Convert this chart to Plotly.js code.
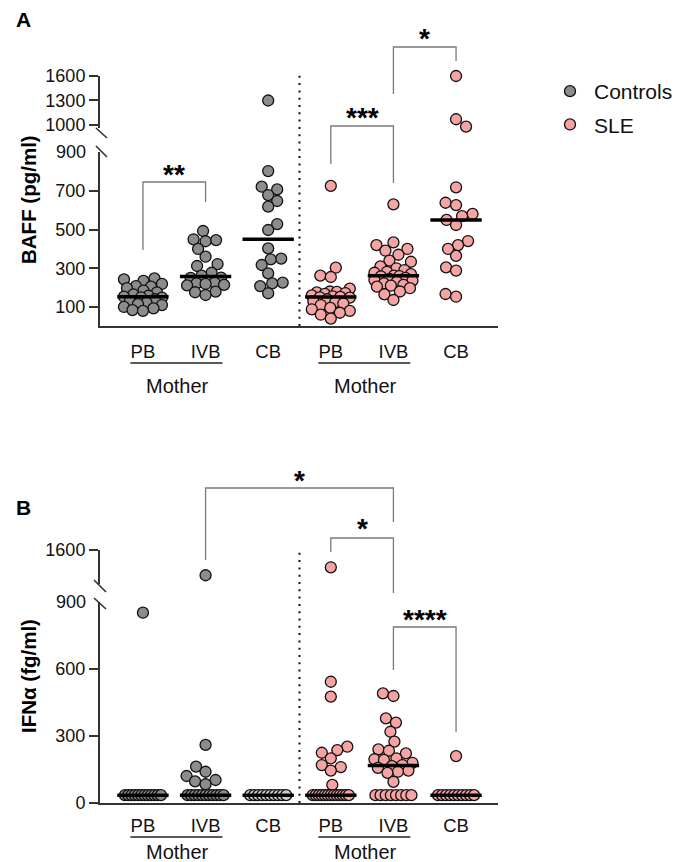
<!DOCTYPE html>
<html><head><meta charset="utf-8">
<script src="https://cdn.plot.ly/plotly-3.0.1.min.js"></script>
<style>html,body{margin:0;padding:0;background:#fff}#chart{width:692px;height:862px}</style>
</head><body><div id="chart"></div>
<script>
// ---------- DATA ----------
const categories = ['PB', 'IVB', 'CB', 'PB', 'IVB', 'CB'];
const subgroupLabel = 'Mother';
const seriesNames = ['Controls', 'SLE'];
const panelTitles = ['BAFF (pg/ml)', 'IFNα (fg/ml)'];

// Panel A: BAFF (pg/ml)
const baffControlsPB  = [248, 243, 235, 219, 208, 205, 197, 185, 175, 165, 158, 153, 150, 148, 140, 130, 122, 115, 110, 100, 93, 84, 80];
const baffControlsIVB = [493, 450, 446, 440, 400, 360, 322, 312, 277, 262, 252, 250, 226, 222, 219, 214, 212, 179, 176, 162];
const baffControlsCB  = [1300, 803, 722, 708, 679, 648, 619, 529, 498, 403, 350, 346, 317, 274, 226, 222, 208, 171];
const baffSlePB  = [726, 303, 262, 255, 195, 180, 178, 175, 172, 168, 160, 155, 152, 150, 148, 140, 130, 125, 118, 110, 95, 88, 80, 70, 60, 40];
const baffSleIVB = [631, 434, 420, 400, 391, 370, 340, 334, 310, 300, 291, 282, 277, 270, 262, 260, 258, 250, 245, 239, 236, 231, 222, 214, 210, 205, 197, 180, 165, 136];
const baffSleCB  = [1600, 1070, 980, 939, 719, 639, 627, 581, 570, 550, 524, 441, 420, 400, 364, 305, 288, 167, 153];

// Panel B: IFNα (fg/ml)
const ifnControlsPB  = [852, 35, 35, 35, 35, 35, 35, 35, 35, 35, 35, 35, 35];
const ifnControlsIVB = [1390, 260, 163, 140, 121, 103, 97, 84, 35, 35, 35, 35, 35, 35, 35, 35, 35, 35, 35];
const ifnControlsCB  = [35, 35, 35, 35, 35, 35, 35, 35, 35, 35];
const ifnSlePB  = [1456, 543, 476, 252, 237, 225, 200, 170, 161, 145, 81, 35, 35, 35, 35, 35, 35, 35, 35, 35, 35, 35, 35, 35];
const ifnSleIVB = [491, 479, 379, 360, 319, 275, 240, 234, 222, 200, 196, 193, 180, 170, 165, 157, 145, 140, 135, 95, 35, 35, 35, 35, 35, 35, 35, 35];
const ifnSleCB  = [210, 35, 35, 35, 35, 35, 35, 35, 35, 35, 35];

// Significance comparisons: [fromCategory, toCategory, label]
const sigA = [[0, 1, '**'], [3, 4, '***'], [4, 5, '*']];
const sigB = [[1, 4, '*'], [3, 4, '*'], [4, 5, '****']];

// ---------- LAYOUT GEOMETRY ----------
const W = 692, H = 862;
const py = p => 1 - p / H;
const xDomain = [100 / W, 498 / W];
const xRange = [-0.686, 5.67];
const axA_lo = {domain: [py(326.3), py(152.3)], range: [0, 900]};
const axA_hi = {domain: [py(128), py(76)], range: [963, 1600]};
const axB_lo = {domain: [py(803), py(602)], range: [0, 900]};
const axB_hi = {domain: [py(584), py(550)], range: [1317, 1600]};
const BREAK = 900;
const pxPerX = W * (xDomain[1] - xDomain[0]) / (xRange[1] - xRange[0]);

const GRAY = '#8c8c8c', GRAY_LIGHT = '#cdcdcd', PINK = '#f5a3a3';
const FONT = 'Liberation Sans, Arial, Helvetica, sans-serif';

// ---------- swarm layout (offsets derived from values) ----------
function swarm(vals, toPx, D, maxW) {
  const idx = vals.map((v, i) => i).sort((a, b) => vals[a] - vals[b]);
  const counts = {};
  vals.forEach(v => counts[v] = (counts[v] || 0) + 1);
  const seen = {};
  const placed = [];
  const off = new Array(vals.length).fill(0);
  let flip = 1;
  for (const i of idx) {
    const v = vals[i], y = toPx(v);
    let x;
    if (counts[v] >= 4) {
      const k = counts[v];
      const j = seen[v] = (seen[v] === undefined ? 0 : seen[v] + 1);
      const half = Math.min((k - 1) * D / 2, maxW - 1);
      x = -half + j * (2 * half / (k - 1));
    } else {
      let best = 0, bestScore = -1;
      outer:
      for (let s = 0; s <= maxW; s += 0.5) {
        for (const sg of [flip, -flip]) {
          const c = s * sg;
          let minD = Infinity;
          for (const p of placed) minD = Math.min(minD, Math.hypot(p.x - c, p.y - y));
          if (minD >= D) { x = c; break outer; }
          if (minD > bestScore) { bestScore = minD; best = c; }
          if (s === 0) break;
        }
      }
      if (x === undefined) x = best;
      flip = -flip;
    }
    placed.push({x, y});
    off[i] = x;
  }
  return off;
}

const traces = [];
const medianTraces = [];
function addGroup(vals, cat, color, panel, name, showLeg) {
  const lo = panel === 'A' ? axA_lo : axB_lo, hi = panel === 'A' ? axA_hi : axB_hi;
  const toPx = v => {
    const a = v > BREAK ? hi : lo;
    const f = (v - a.range[0]) / (a.range[1] - a.range[0]);
    return H * (1 - (a.domain[0] + f * (a.domain[1] - a.domain[0])));
  };
  const offs = swarm(vals, toPx, 10.5, 19);
  const loX = [], loY = [], hiX = [], hiY = [];
  vals.forEach((v, i) => {
    const x = cat + offs[i] / pxPerX;
    if (v > BREAK) { hiX.push(x); hiY.push(v); } else { loX.push(x); loY.push(v); }
  });
  const xa = panel === 'A' ? 'x' : 'x2';
  const yl = panel === 'A' ? 'y' : 'y3';
  const yh = panel === 'A' ? 'y2' : 'y4';
  const marker = {size: 11, color: color, line: {color: '#111', width: 1.3}};
  traces.push({type: 'scatter', mode: 'markers', x: loX, y: loY, xaxis: xa, yaxis: yl, marker,
    cliponaxis: false, name, legendgroup: name, showlegend: showLeg});
  if (hiY.length) traces.push({type: 'scatter', mode: 'markers', x: hiX, y: hiY, xaxis: xa, yaxis: yh, marker,
    cliponaxis: false, name, legendgroup: name, showlegend: false});
  const s = [...vals].sort((a, b) => a - b), n = s.length;
  const med = n % 2 ? s[(n - 1) / 2] : (s[n / 2 - 1] + s[n / 2]) / 2;
  medianTraces.push({type: 'scatter', mode: 'lines', x: [cat - 0.41, cat + 0.41], y: [med, med],
    xaxis: xa, yaxis: med > BREAK ? yh : yl, line: {color: '#000', width: 3.5},
    showlegend: false, hoverinfo: 'skip', cliponaxis: false});
}

addGroup(baffControlsPB, 0, GRAY, 'A', seriesNames[0], true);
addGroup(baffControlsIVB, 1, GRAY, 'A', seriesNames[0], false);
addGroup(baffControlsCB, 2, GRAY, 'A', seriesNames[0], false);
addGroup(baffSlePB, 3, PINK, 'A', seriesNames[1], true);
addGroup(baffSleIVB, 4, PINK, 'A', seriesNames[1], false);
addGroup(baffSleCB, 5, PINK, 'A', seriesNames[1], false);
addGroup(ifnControlsPB, 0, GRAY, 'B', seriesNames[0], false);
addGroup(ifnControlsIVB, 1, GRAY, 'B', seriesNames[0], false);
addGroup(ifnControlsCB, 2, GRAY_LIGHT, 'B', seriesNames[0], false);
addGroup(ifnSlePB, 3, PINK, 'B', seriesNames[1], false);
addGroup(ifnSleIVB, 4, PINK, 'B', seriesNames[1], false);
addGroup(ifnSleCB, 5, PINK, 'B', seriesNames[1], false);

// ---------- axes ----------
const AXC = '#333';
function yAx(a, anchor, tickvals) {
  return {domain: a.domain, range: a.range, anchor, tickvals, ticks: 'outside', ticklen: 9, tickwidth: 2,
    tickcolor: AXC, showline: true, linecolor: AXC, linewidth: 2, showgrid: false, zeroline: false,
    tickfont: {size: 18, color: '#111'}, fixedrange: true};
}
function xAx(anchor, ticklen) {
  return {domain: xDomain, range: xRange, anchor, tickvals: [0, 1, 2, 3, 4, 5], ticktext: categories,
    ticks: 'outside', ticklen, tickcolor: 'rgba(0,0,0,0)', showline: true, linecolor: AXC, linewidth: 2,
    showgrid: false, zeroline: false, tickfont: {size: 18.5, color: '#111'}, fixedrange: true};
}

const shapes = [];
const annotations = [];
const lineStyle = {color: '#7a7a7a', width: 1.3};

// separators
shapes.push({type: 'line', xref: 'x', yref: 'paper', x0: 2.5, x1: 2.5, y0: py(326), y1: py(75),
  line: {color: '#111', width: 2, dash: '2px,5.3px'}});
shapes.push({type: 'line', xref: 'x2', yref: 'paper', x0: 2.5, x1: 2.5, y0: py(803), y1: py(550),
  line: {color: '#111', width: 2, dash: '2px,5.3px'}});

// axis break slashes
[[96, 128, 107, 138], [96, 146, 107, 157], [94, 580, 106, 592], [94, 598, 106, 609]].forEach(s => {
  shapes.push({type: 'line', xref: 'paper', yref: 'paper', x0: s[0] / W, x1: s[2] / W, y0: py(s[1]), y1: py(s[3]),
    line: {color: AXC, width: 1.6}});
});

// break labels without tick marks
annotations.push({xref: 'paper', yref: 'y', x: 88 / W, y: 900, xanchor: 'right', yanchor: 'middle', text: '900', showarrow: false, font: {size: 18, color: '#111'}});
annotations.push({xref: 'paper', yref: 'y3', x: 88 / W, y: 900, xanchor: 'right', yanchor: 'middle', text: '900', showarrow: false, font: {size: 18, color: '#111'}});
annotations.push({xref: 'paper', yref: 'y4', x: 88 / W, y: 1300, xanchor: 'right', yanchor: 'middle', text: '1300', showarrow: false, font: {size: 18, color: '#111'}});

// subgroup underline + label
[['x', 363, 386], ['x2', 837, 852]].forEach(([xr, uy, ty]) => {
  [[-0.2, 1.27, 0.55], [2.8, 4.27, 3.55]].forEach(([a, b, c]) => {
    shapes.push({type: 'line', xref: xr, yref: 'paper', x0: a, x1: b, y0: py(uy), y1: py(uy), line: {color: '#222', width: 1.5}});
    annotations.push({xref: xr, yref: 'paper', x: c, y: py(ty), xanchor: 'center', yanchor: 'middle', text: subgroupLabel, showarrow: false, font: {size: 20, color: '#111'}});
  });
});

// significance brackets
function bracket(xr, c0, c1, topPx, l0Px, l1Px, label, starPx) {
  shapes.push({type: 'path', xref: xr, yref: 'paper',
    path: `M ${c0},${py(l0Px)} L ${c0},${py(topPx)} L ${c1},${py(topPx)} L ${c1},${py(l1Px)}`,
    line: lineStyle});
  annotations.push({xref: xr, yref: 'paper', x: (c0 + c1) / 2, y: py(starPx + 6), xanchor: 'center', yanchor: 'middle',
    text: '<b>' + label + '</b>', showarrow: false, font: {size: 28, color: '#000'}});
}
const bracketPxA = [[182, 250, 202, 168], [126, 164, 183, 112], [47, 94, 61, 33]];
const bracketPxB = [[488, 560, 522, 475], [538, 552, 593, 522], [627, 670, 732, 613]];
sigA.forEach((s, i) => bracket('x', s[0], s[1], ...bracketPxA[i].slice(0, 3), s[2], bracketPxA[i][3]));
sigB.forEach((s, i) => bracket('x2', s[0], s[1], ...bracketPxB[i].slice(0, 3), s[2], bracketPxB[i][3]));

// panel letters and y titles
annotations.push({xref: 'paper', yref: 'paper', x: 14 / W, y: py(19), xanchor: 'left', yanchor: 'middle', text: '<b>A</b>', showarrow: false, font: {size: 21, color: '#000'}});
annotations.push({xref: 'paper', yref: 'paper', x: 14 / W, y: py(508), xanchor: 'left', yanchor: 'middle', text: '<b>B</b>', showarrow: false, font: {size: 21, color: '#000'}});
annotations.push({xref: 'paper', yref: 'paper', x: 28 / W, y: py(200), xanchor: 'center', yanchor: 'middle', textangle: -90, text: '<b>' + panelTitles[0] + '</b>', showarrow: false, font: {size: 20.5, color: '#000'}});
annotations.push({xref: 'paper', yref: 'paper', x: 28 / W, y: py(676), xanchor: 'center', yanchor: 'middle', textangle: -90, text: '<b>' + panelTitles[1] + '</b>', showarrow: false, font: {size: 20.5, color: '#000'}});

const layout = {
  width: W, height: H, margin: {l: 0, r: 0, t: 0, b: 0},
  paper_bgcolor: '#fff', plot_bgcolor: 'rgba(0,0,0,0)',
  font: {family: FONT, size: 18, color: '#111'},
  showlegend: true,
  legend: {x: 546 / W, y: py(71), xanchor: 'left', yanchor: 'top', font: {size: 21, color: '#111'},
    tracegroupgap: 3, itemwidth: 38, bgcolor: 'rgba(0,0,0,0)', itemclick: false},
  xaxis: xAx('y', 7),
  yaxis: yAx(axA_lo, 'x', [100, 300, 500, 700]),
  yaxis2: yAx(axA_hi, 'x', [1000, 1300, 1600]),
  xaxis2: xAx('y3', 5),
  yaxis3: yAx(axB_lo, 'x2', [0, 300, 600]),
  yaxis4: yAx(axB_hi, 'x2', [1600]),
  shapes, annotations,
  hovermode: false
};

Plotly.newPlot('chart', traces.concat(medianTraces), layout, {displayModeBar: false, staticPlot: true});
</script>
</body></html>
